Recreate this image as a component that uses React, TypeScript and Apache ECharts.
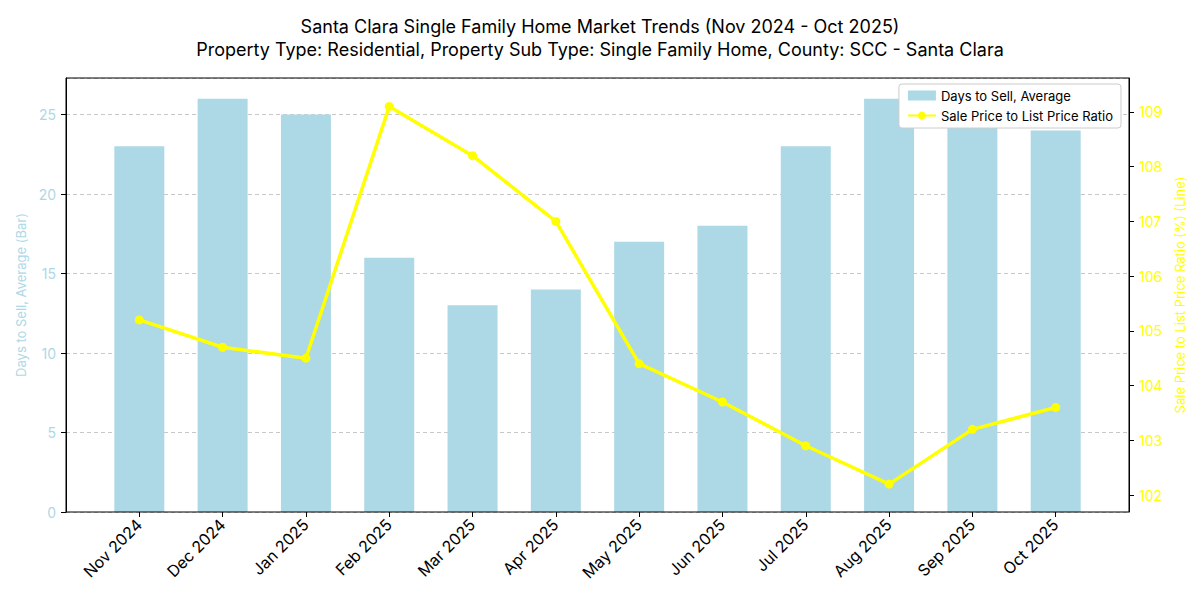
import React, { useEffect, useRef } from "react";
import * as echarts from "echarts";

const categories = ["Nov 2024", "Dec 2024", "Jan 2025", "Feb 2025", "Mar 2025", "Apr 2025", "May 2025", "Jun 2025", "Jul 2025", "Aug 2025", "Sep 2025", "Oct 2025"];
const daysToSell = [23, 26, 25, 16, 13, 14, 17, 18, 23, 26, 25, 24];
const saleToList = [105.2, 104.7, 104.5, 109.1, 108.2, 107.0, 104.4, 103.7, 102.9, 102.2, 103.2, 103.6];
const rightTicks = [102, 103, 104, 105, 106, 107, 108, 109];

const FONT = "Inter";
const FRAME_L = 66, FRAME_R = 1129, FRAME_T = 78, FRAME_B = 512;
const UNIT = (FRAME_R - FRAME_L) / 12.76;
const GRID_L = FRAME_L + 0.38 * UNIT;
const GRID_R = GRID_L + 12 * UNIT;
const LEFT_MIN = 0, LEFT_MAX = 27.3;
const RIGHT_MIN = 101.69, RIGHT_MAX = 109.62;

export default function App() {
  const ref = useRef<HTMLDivElement>(null);
  useEffect(() => {
    const chart = echarts.init(ref.current!, undefined, { renderer: "svg" });
    chart.setOption({
      animation: false,
      textStyle: { fontFamily: FONT },
      title: {
        text: "Santa Clara Single Family Home Market Trends (Nov 2024 - Oct 2025)\nProperty Type: Residential, Property Sub Type: Single Family Home, County: SCC - Santa Clara",
        left: "center",
        top: 10,
        textStyle: { fontFamily: FONT, fontSize: 18, fontWeight: "normal", color: "#000", lineHeight: 23 },
      },
      legend: {
        orient: "vertical",
        right: 1200 - 1121,
        top: 84,
        backgroundColor: "#fff",
        borderColor: "#ccc",
        borderWidth: 1,
        borderRadius: 3,
        padding: [5, 8, 6, 8],
        itemGap: 7,
        itemWidth: 28,
        itemHeight: 10,
        textStyle: { fontFamily: FONT, fontSize: 13, color: "#000" },
        data: [
          { name: "Days to Sell, Average", icon: "rect" },
          { name: "Sale Price to List Price Ratio" },
        ],
      },
      grid: [
        { left: GRID_L, right: 1200 - GRID_R, top: FRAME_T, bottom: 600 - FRAME_B, containLabel: false },
        { left: FRAME_L, right: 1200 - FRAME_R, top: FRAME_T, bottom: 600 - FRAME_B, containLabel: false },
      ],
      graphic: [
        {
          type: "rect",
          shape: { x: FRAME_L, y: FRAME_T, width: FRAME_R - FRAME_L, height: FRAME_B - FRAME_T },
          style: { fill: "none", stroke: "#000", lineWidth: 1 },
          silent: true,
          z: 100,
        },
      ],
      xAxis: [
        {
          type: "category",
          gridIndex: 0,
          data: categories,
          boundaryGap: true,
          axisLine: { show: false },
          axisTick: { show: true, alignWithLabel: true, length: 5, lineStyle: { color: "#000" } },
          axisLabel: { rotate: 45, fontSize: 16, color: "#000", margin: 10, fontFamily: FONT, interval: 0 },
          splitLine: { show: false },
        },
        {
          type: "value",
          gridIndex: 1,
          min: 0,
          max: 1,
          show: false,
        },
      ],
      yAxis: [
        { type: "value", gridIndex: 0, min: LEFT_MIN, max: LEFT_MAX, show: false },
        { type: "value", gridIndex: 0, min: RIGHT_MIN, max: RIGHT_MAX, show: false },
        {
          type: "value",
          gridIndex: 1,
          min: LEFT_MIN,
          max: LEFT_MAX,
          interval: 5,
          position: "left",
          name: "Days to Sell, Average (Bar)",
          nameLocation: "middle",
          nameRotate: 90,
          nameGap: 38,
          nameTextStyle: { color: "#ADD8E6", fontSize: 13, fontFamily: FONT },
          axisLine: { show: true, lineStyle: { color: "#000" } },
          axisTick: { show: true, length: 5, lineStyle: { color: "#000" } },
          axisLabel: { color: "#ADD8E6", fontSize: 14, margin: 10, fontFamily: FONT, showMaxLabel: false },
          splitLine: { show: true, lineStyle: { color: "#c8c8c8", type: [4, 3], width: 1 } },
        },
        {
          type: "value",
          gridIndex: 1,
          min: RIGHT_MIN,
          max: RIGHT_MAX,
          position: "right",
          name: "Sale Price to List Price Ratio (%) (Line)",
          nameLocation: "middle",
          nameRotate: 90,
          nameGap: 42,
          nameTextStyle: { color: "#FFFF00", fontSize: 13, fontFamily: FONT },
          axisLine: { show: true, lineStyle: { color: "#000" } },
          axisTick: { show: true, length: 5, lineStyle: { color: "#000" }, customValues: rightTicks },
          axisLabel: { color: "#FFFF00", fontSize: 14, margin: 10, fontFamily: FONT, customValues: rightTicks },
          splitLine: { show: false },
        },
      ],
      series: [
        {
          name: "Days to Sell, Average",
          type: "bar",
          xAxisIndex: 0,
          yAxisIndex: 0,
          data: daysToSell,
          barWidth: 0.6 * UNIT,
          itemStyle: { color: "#ADD8E6" },
        },
        {
          name: "Sale Price to List Price Ratio",
          type: "line",
          xAxisIndex: 0,
          yAxisIndex: 1,
          data: saleToList,
          symbol: "circle",
          symbolSize: 9,
          lineStyle: { color: "#FFFF00", width: 3.5 },
          itemStyle: { color: "#FFFF00" },
          z: 5,
        },
      ],
    });
    return () => chart.dispose();
  }, []);
  return <div ref={ref} style={{ width: 1200, height: 600, margin: -8 }} />;
}
